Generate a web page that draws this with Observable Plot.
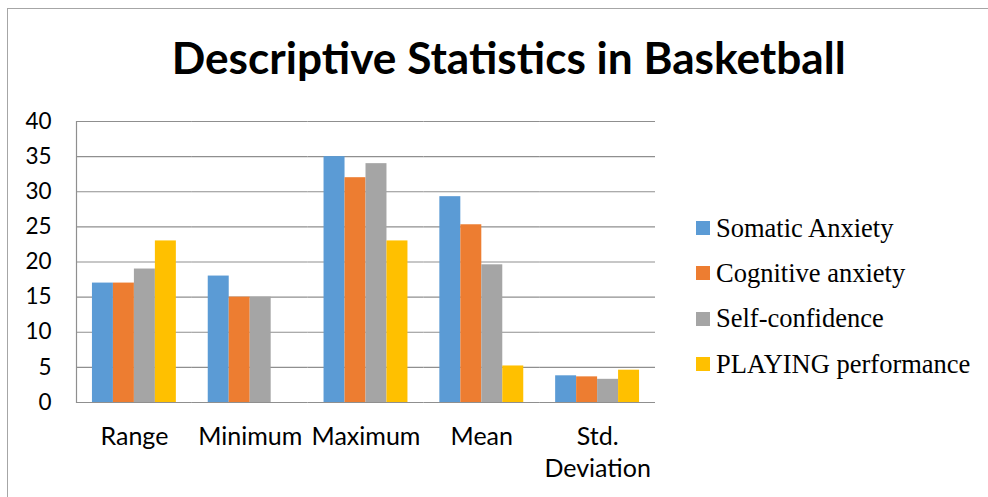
<!DOCTYPE html>
<html>
<head>
<meta charset="utf-8">
<script src="https://cdn.jsdelivr.net/npm/d3@7"></script>
<script src="https://cdn.jsdelivr.net/npm/@observablehq/plot@0.6"></script>
<style>
  html, body { margin: 0; padding: 0; background: white; }
  #wrap { position: relative; width: 988px; height: 497px; overflow: hidden; background: white; }
  #border { position: absolute; left: 7px; top: 8px; width: 1100px; height: 600px; border: 1px solid #a6a6a6; box-sizing: border-box; }
  #title { position: absolute; left: 0; top: 35px; width: 1018px; text-align: center; font-family: Lato, sans-serif; font-weight: 700; font-size: 44px; line-height: 44px; color: black; white-space: nowrap; }
  #title span { display: inline-block; transform-origin: center center; }
  #chart { position: absolute; left: 0; top: 0; }
  #legend { position: absolute; left: 696px; top: 205.5px; font-family: "Liberation Serif", "Times New Roman", serif; font-size: 26.5px; color: black; }
  .row { display: flex; align-items: center; height: 45.3px; white-space: nowrap; }
  .sw { width: 14px; height: 14px; margin-right: 6px; flex: none; }
</style>
</head>
<body>
<div id="wrap">
  <div id="border"></div>
  <div id="chart"></div>
  <div id="title"><span id="titleText">Descriptive Statistics in Basketball</span></div>
  <div id="legend"></div>
</div>
<script>
const categories = ["Range", "Minimum", "Maximum", "Mean", "Std. Deviation"];
const series = ["Somatic Anxiety", "Cognitive anxiety", "Self-confidence", "PLAYING performance"];
const somaticAnxiety = [17, 18, 35, 29.3, 3.8];
const cognitiveAnxiety = [17, 15, 32, 25.3, 3.65];
const selfConfidence = [19, 15, 34, 19.6, 3.3];
const playingPerformance = [23, null, 23, 5.2, 4.6];
const colors = ["#5B9BD5", "#ED7D31", "#A5A5A5", "#FFC000"];
const yTicks = [0, 5, 10, 15, 20, 25, 30, 35, 40];

const seriesValues = [somaticAnxiety, cognitiveAnxiety, selfConfidence, playingPerformance];
const table = [];
series.forEach((s, i) => {
  categories.forEach((c, j) => {
    const v = seriesValues[i][j];
    if (v != null) table.push({series: s, category: c, value: v});
  });
});

const chart = Plot.plot({
  width: 700,
  height: 497,
  marginLeft: 76,
  marginRight: 45,
  marginTop: 121,
  marginBottom: 95,
  fx: {domain: categories, padding: 0, round: false, label: null},
  x: {domain: series, paddingInner: 0, paddingOuter: 0.76, round: false, axis: null},
  y: {domain: [0, 40], label: null},
  color: {domain: series, range: colors},
  style: {fontFamily: "Lato, sans-serif", color: "black", background: "transparent", overflow: "visible"},
  marks: [
    Plot.gridY(yTicks, {stroke: "#8f8f8f", strokeOpacity: 1, strokeWidth: 1.2}),
    Plot.barY(table, {fx: "category", x: "series", y: "value", fill: "series"}),
    Plot.frame({anchor: "left", facetAnchor: "left", stroke: "#8f8f8f", strokeWidth: 1.2}),
    Plot.axisY(yTicks, {tickSize: 0, tickPadding: 25, fontSize: 22.5, label: null, fill: "black"}),
    Plot.axisFx({anchor: "bottom", tickSize: 0, tickPadding: 20, fontSize: 25, lineHeight: 1.28, label: null, fill: "black",
      tickFormat: d => d === "Std. Deviation" ? "Std.\nDeviation" : d})
  ]
});
document.getElementById("chart").appendChild(chart);

const legend = document.getElementById("legend");
series.forEach((s, i) => {
  const row = document.createElement("div");
  row.className = "row";
  const sw = document.createElement("div");
  sw.className = "sw";
  sw.style.background = colors[i];
  const t = document.createElement("span");
  t.textContent = s;
  row.appendChild(sw);
  row.appendChild(t);
  legend.appendChild(row);
});

const tt = document.getElementById("titleText");
const w = tt.getBoundingClientRect().width;
tt.style.transform = `scaleX(${674 / w})`;
</script>
</body>
</html>
